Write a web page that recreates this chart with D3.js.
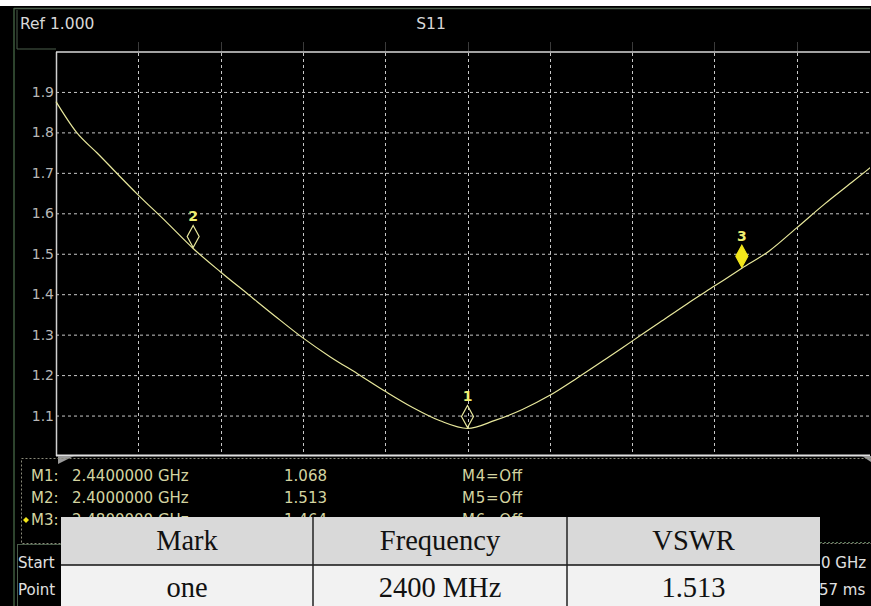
<!DOCTYPE html>
<html>
<head>
<meta charset="utf-8">
<script src="https://cdn.jsdelivr.net/npm/d3@7"></script>
<style>
  body { margin: 0; background: #fff; }
  svg { display: block; }
</style>
</head>
<body>
<div id="chart"></div>
<script>
var freqs = [2.380, 2.383, 2.386, 2.392, 2.396, 2.400, 2.404, 2.408, 2.412, 2.416, 2.420,
             2.424, 2.428, 2.432, 2.436, 2.440, 2.444, 2.448, 2.452, 2.456, 2.460,
             2.464, 2.468, 2.472, 2.476, 2.480, 2.484, 2.488, 2.492, 2.496, 2.500];
var vswr  = [1.876, 1.800, 1.749, 1.645, 1.580, 1.513, 1.455, 1.400, 1.345, 1.292, 1.245,
             1.203, 1.160, 1.120, 1.087, 1.068, 1.088, 1.115, 1.150, 1.193, 1.238,
             1.284, 1.330, 1.376, 1.420, 1.464, 1.507, 1.564, 1.622, 1.676, 1.730];

// markers
var markerNames = ["1", "2", "3"];
var markerFreq  = [2.440, 2.400, 2.480];
var markerVal   = [1.068, 1.513, 1.464];
var markerActive = [false, false, true];

// axis ticks
var yTicks = [1.1, 1.2, 1.3, 1.4, 1.5, 1.6, 1.7, 1.8, 1.9];
var xTicks = [2.392, 2.404, 2.416, 2.428, 2.440, 2.452, 2.464, 2.476, 2.488];

// marker readout lines
var readName = ["M1:", "M2:", "M3:"];
var readFreq = ["2.4400000 GHz", "2.4000000 GHz", "2.4800000 GHz"];
var readVal  = ["1.068", "1.513", "1.464"];
var readOff  = ["M4=Off", "M5=Off", "M6=Off"];

// overlay table
var tableHeader = ["Mark", "Frequency", "VSWR"];
var tableRow    = ["one", "2400 MHz", "1.513"];

var W = 871, H = 606;
var traceColor = "#e8e89c";
var font = "DejaVu Sans";

var svg = d3.select("#chart").append("svg")
  .attr("width", W).attr("height", H);

// screen background
svg.append("rect").attr("x", 0).attr("y", 6).attr("width", W).attr("height", H - 6)
  .attr("fill", "#000");

// outer frame lines
svg.append("line").attr("x1", 14).attr("x2", 14).attr("y1", 8).attr("y2", H)
  .attr("stroke", "#3d5a3d").attr("stroke-width", 1.5);
svg.append("line").attr("x1", 14).attr("x2", W).attr("y1", 8.5).attr("y2", 8.5)
  .attr("stroke", "#4a5e4a").attr("stroke-width", 1.5);
svg.append("line").attr("x1", 17).attr("x2", 17).attr("y1", 10).attr("y2", 49)
  .attr("stroke", "#4a5e4a");
svg.append("line").attr("x1", 17).attr("x2", 56).attr("y1", 49).attr("y2", 49)
  .attr("stroke", "#4a5e4a");

// header text
svg.append("text").attr("x", 20).attr("y", 29).text("Ref 1.000")
  .attr("fill", "#d8d8d8").attr("font-family", font).attr("font-size", 15.5);
svg.append("text").attr("x", 431).attr("y", 29).attr("text-anchor", "middle").text("S11")
  .attr("fill", "#d8d8d8").attr("font-family", font).attr("font-size", 15.5);

// scales
var x = d3.scaleLinear().domain([2.38, 2.50]).range([56, 879]);
var y = d3.scaleLinear().domain([1.0, 2.0]).range([456, 51.5]);

var plot = svg.append("g");

// grid
plot.selectAll(".vgrid").data(xTicks).join("line")
  .attr("class", "vgrid")
  .attr("x1", d => Math.round(x(d)) + 0.5).attr("x2", d => Math.round(x(d)) + 0.5)
  .attr("y1", 53).attr("y2", 455)
  .attr("stroke", "#c8c8c8").attr("stroke-dasharray", "3,3");
plot.selectAll(".vtick").data(xTicks).join("line")
  .attr("class", "vtick")
  .attr("x1", d => Math.round(x(d)) + 0.5).attr("x2", d => Math.round(x(d)) + 0.5)
  .attr("y1", 42).attr("y2", 51)
  .attr("stroke", "#3a3a3a");

var yAxis = plot.append("g")
  .attr("transform", "translate(56,0)")
  .call(d3.axisLeft(y).tickValues(yTicks).tickSize(-(W - 56)).tickFormat(d3.format(".1f")));
yAxis.select(".domain").remove();
yAxis.selectAll(".tick line")
  .attr("stroke", "#c8c8c8").attr("stroke-dasharray", "3,3");
yAxis.selectAll(".tick text")
  .attr("x", -2).attr("fill", "#b8b8b8")
  .attr("font-family", font).attr("font-size", 14);

// plot frame
plot.append("line").attr("x1", 56.5).attr("x2", 56.5).attr("y1", 52).attr("y2", 456)
  .attr("stroke", "#d0d0d0").attr("stroke-width", 1.5);
plot.append("line").attr("x1", 56).attr("x2", W).attr("y1", 52).attr("y2", 52)
  .attr("stroke", "#d8d8d8").attr("stroke-width", 1.5);
plot.append("line").attr("x1", 56).attr("x2", W).attr("y1", 455.5).attr("y2", 455.5)
  .attr("stroke", "#e0e0e0").attr("stroke-width", 2);

// trace
var line = d3.line()
  .x((d, i) => x(freqs[i]))
  .y(d => y(d))
  .curve(d3.curveMonotoneX);
plot.append("path")
  .datum(vswr)
  .attr("d", line)
  .attr("fill", "none")
  .attr("stroke", traceColor)
  .attr("stroke-width", 1.2);

// clip right edge
svg.append("rect").attr("x", 870).attr("y", 6).attr("width", 1).attr("height", H).attr("fill", "#000");

// markers
var mk = plot.selectAll(".marker").data(markerNames).join("g")
  .attr("class", "marker")
  .attr("transform", (d, i) => "translate(" + x(markerFreq[i]) + "," + y(markerVal[i]) + ")");
mk.append("path")
  .attr("d", "M0,-1 L6,-12 L0,-23 L-6,-12 Z")
  .attr("fill", (d, i) => markerActive[i] ? "#f2e61a" : "none")
  .attr("stroke", (d, i) => markerActive[i] ? "#f2e61a" : traceColor)
  .attr("stroke-width", 1.2);
mk.append("text")
  .attr("y", -27).attr("text-anchor", "middle")
  .attr("fill", "#eeee70").attr("font-family", font)
  .attr("font-weight", "bold").attr("font-size", 14)
  .text(d => d);

// small corner triangles
svg.append("path").attr("d", "M58,456 L74,456 L58,464 Z").attr("fill", "#9a9a9a");
svg.append("path").attr("d", "M871,456 L862,456 L871,462 Z").attr("fill", "#9a9a9a");

// marker readout panel
svg.append("rect").attr("x", 21.5).attr("y", 458.5).attr("width", W).attr("height", 85)
  .attr("fill", "none").attr("stroke", "#8a8a7a").attr("stroke-dasharray", "2,2");

var rd = svg.append("g").attr("font-family", font).attr("font-size", 15)
  .attr("fill", "#d4d4a0");
rd.selectAll(".rn").data(readName).join("text")
  .attr("x", 31).attr("y", (d, i) => 481 + i * 22)
  .text(d => d);
rd.selectAll(".rf").data(readFreq).join("text")
  .attr("x", 72).attr("y", (d, i) => 481 + i * 22)
  .text(d => d);
rd.selectAll(".rv").data(readVal).join("text")
  .attr("x", 327).attr("y", (d, i) => 481 + i * 22)
  .attr("text-anchor", "end")
  .text(d => d);
rd.selectAll(".ro").data(readOff).join("text")
  .attr("x", 462).attr("y", (d, i) => 481 + i * 22)
  .attr("textLength", 60)
  .text(d => d);
svg.append("path").attr("d", "M26,517 L29,520 L26,523 L23,520 Z").attr("fill", "#f2e61a");

// status area
svg.append("line").attr("x1", 17.5).attr("x2", 17.5).attr("y1", 545).attr("y2", H)
  .attr("stroke", "#4a5e4a");
svg.append("line").attr("x1", 17).attr("x2", 61).attr("y1", 544.5).attr("y2", 544.5)
  .attr("stroke", "#4a5e4a");
svg.append("line").attr("x1", 820).attr("x2", W).attr("y1", 542.5).attr("y2", 542.5)
  .attr("stroke", "#5a7a5a").attr("stroke-dasharray", "2,2");
var st = svg.append("g").attr("font-family", font).attr("font-size", 15)
  .attr("fill", "#e0e0e0");
st.append("text").attr("x", 18).attr("y", 568).text("Start");
st.append("text").attr("x", 18).attr("y", 595).text("Point");
st.append("text").attr("x", 821).attr("y", 568).text("0 GHz");
st.append("text").attr("x", 819).attr("y", 595).text("57 ms");

// overlay table
var colX = [61, 313, 567, 820];
var tbl = svg.append("g");
tbl.append("rect").attr("x", colX[0]).attr("y", 517).attr("width", colX[3] - colX[0]).attr("height", 48)
  .attr("fill", "#d9d9d9");
tbl.append("rect").attr("x", colX[0]).attr("y", 565).attr("width", colX[3] - colX[0]).attr("height", H - 565)
  .attr("fill", "#f2f2f2");
tbl.append("line").attr("x1", colX[0]).attr("x2", colX[3]).attr("y1", 565).attr("y2", 565)
  .attr("stroke", "#111").attr("stroke-width", 1.5);
tbl.selectAll(".cb").data([colX[1], colX[2]]).join("line")
  .attr("x1", d => d).attr("x2", d => d).attr("y1", 517).attr("y2", H)
  .attr("stroke", "#222").attr("stroke-width", 1.5);
tbl.selectAll(".th").data(tableHeader).join("text")
  .attr("x", (d, i) => (colX[i] + colX[i + 1]) / 2).attr("y", 550)
  .attr("text-anchor", "middle")
  .attr("font-family", "Liberation Serif").attr("font-size", 28.5).attr("fill", "#111")
  .text(d => d);
tbl.selectAll(".td").data(tableRow).join("text")
  .attr("x", (d, i) => (colX[i] + colX[i + 1]) / 2).attr("y", 597)
  .attr("text-anchor", "middle")
  .attr("font-family", "Liberation Serif").attr("font-size", 28.5).attr("fill", "#111")
  .text(d => d);
</script>
</body>
</html>
